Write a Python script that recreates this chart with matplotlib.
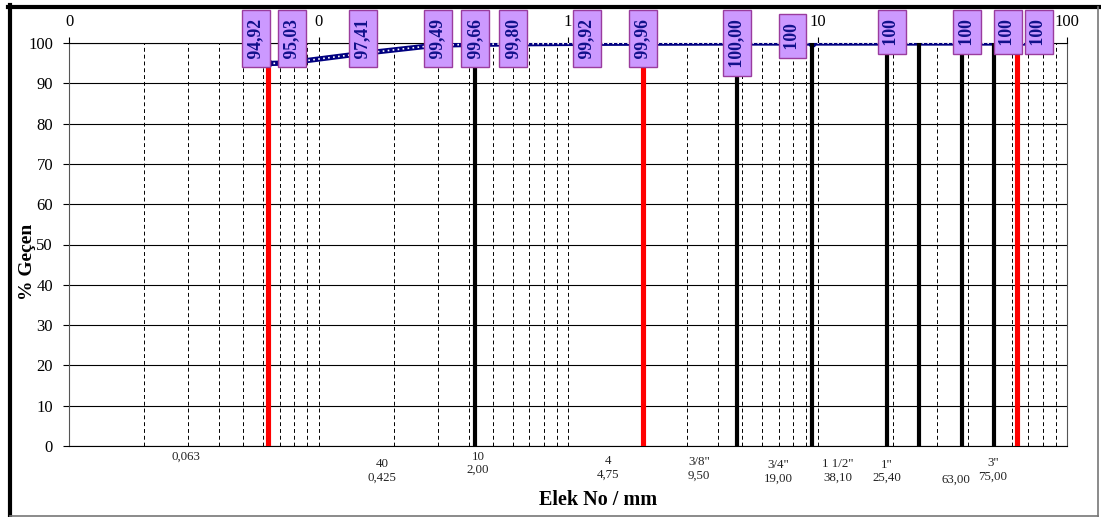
import matplotlib
matplotlib.use("Agg")
import matplotlib.pyplot as plt
from matplotlib.lines import Line2D
from matplotlib.ticker import FixedLocator, FixedFormatter, LogLocator, NullFormatter

# Sieve analysis: percent passing vs. particle size (mm)
sieve_mm = [0.063, 0.075, 0.15, 0.30, 0.425, 0.60, 1.18, 2.00, 4.75, 9.50, 19.0, 38.1, 63.0, 75.0]
passing_pct = [94.92, 95.03, 97.41, 99.49, 99.66, 99.80, 99.92, 99.96, 100.00, 100, 100, 100, 100, 100]
label_decimals = [2, 2, 2, 2, 2, 2, 2, 2, 2, 0, 0, 0, 0, 0]

# Reference sieve lines
boundary_mm = [0.063, 0.425, 2.00, 4.75, 9.50, 19.0, 25.4, 38.1, 50.8, 63.0]
boundary_kind = ["red", "black", "red", "black", "black", "black", "black", "black", "black", "red"]

# Sieve names under the axis
sieve_names = ["0,063", "40\n0,425", "10\n2,00", "4\n4,75", '3/8"\n9,50', '3/4"\n19,00',
               '1 1/2"\n38,10', '1"\n25,40', "63,00", '3"\n75,00']

top_ticks = [0.01, 0.1, 1, 10, 100]
top_tick_labels = ["0", "0", "1", "10", "100"]
y_ticks = list(range(0, 101, 10))

W, H = 1101, 517
plt.rcParams["font.family"] = ["Liberation Serif", "DejaVu Serif"]

fig = plt.figure(figsize=(W / 100, H / 100), dpi=100)
ax_l, ax_r, ax_t, ax_b = 69, 1067, 43, 446
ax = fig.add_axes([ax_l / W, 1 - ax_b / H, (ax_r - ax_l) / W, (ax_b - ax_t) / H])

ax.set_xscale("log")
ax.set_xlim(0.01, 100)
ax.set_ylim(0, 100)

# grid
ax.xaxis.set_minor_locator(LogLocator(base=10, subs=range(2, 10)))
ax.xaxis.set_minor_formatter(NullFormatter())
ax.xaxis.set_major_locator(FixedLocator(top_ticks))
ax.xaxis.set_major_formatter(FixedFormatter(top_tick_labels))
ax.grid(True, which="both", axis="x", color="black", lw=0.7, ls=(0, (4, 3)), zorder=1)
ax.set_yticks(y_ticks)
ax.grid(True, which="major", axis="y", color="black", lw=0.8, ls="-", zorder=1)
ax.set_axisbelow(True)

ax.xaxis.tick_top()
ax.tick_params(axis="x", which="major", top=True, bottom=False, length=4, width=0.8,
               direction="out", labelsize=12, pad=5, labeltop=True, labelbottom=False)
ax.tick_params(axis="x", which="minor", length=0)
ax.tick_params(axis="y", length=4.5, width=0.8, direction="out", labelsize=12, pad=7)

for side in ["left", "right"]:
    ax.spines[side].set_color("#555555")
    ax.spines[side].set_linewidth(0.8)
for side in ["top", "bottom"]:
    ax.spines[side].set_color("black")
    ax.spines[side].set_linewidth(0.8)

# passing curve
ax.plot(sieve_mm, passing_pct, color="#000080", lw=3.8, solid_capstyle="butt", zorder=3)
ax.plot(sieve_mm, passing_pct, color="white", lw=1.2, ls=(0, (1, 2)), zorder=3.1)
ax.plot(sieve_mm, passing_pct, ls="none", marker="o", ms=5.0, color="#000080", zorder=3.5)

# sieve boundary lines
for x, kind in zip(boundary_mm, boundary_kind):
    if kind == "red":
        ax.vlines(x, 0, 100, colors="#FF0000", lw=3.7, zorder=4)
    else:
        ax.vlines(x, 0, 100, colors="black", lw=3.0, zorder=4)

# value labels
label_dx = [-9, 3.5, 0.5, 0, 0, 0.5, 0.5, 0, 0, -14, 3.5, 3.5, -6.5, 2]
label_dy = [19.9, 19.9, 19.9, 19.9, 19.9, 19.9, 19.9, 19.9, 19.9, 17.0, 19.9, 19.9, 19.9, 19.9]
for x, v, d, dx, dy in zip(sieve_mm, passing_pct, label_decimals, label_dx, label_dy):
    txt = f"{v:.{d}f}".replace(".", ",")
    ax.annotate("\u2009" + txt + "\u2009", xy=(x, 1.0), xycoords=("data", "axes fraction"),
                xytext=(dx, dy), textcoords="offset points",
                rotation=90, ha="center", va="top", fontsize=12.7, fontweight="bold",
                color="#10108A", annotation_clip=False, zorder=6,
                bbox=dict(boxstyle="square,pad=0.31", fc="#CC99FF", ec="#9A3C9E", lw=1.0))

# sieve names under the axis
name_px = [(186, 457), (382, 471), (478, 463.5), (608, 468), (699, 469), (778, 472),
           (838, 471), (887, 471.5), (956, 480), (993, 470)]
for name, (px, py) in zip(sieve_names, name_px):
    fig.text(px / W, 1 - py / H, name, ha="center", va="center", fontsize=9.3,
             color="#222222", linespacing=1.15, multialignment="center")

# axis titles
fig.text(28 / W, 1 - 261.5 / H, "% Geçen", rotation=90, ha="center", va="center",
         fontsize=14, fontweight="bold")
fig.text(598 / W, 1 - 500 / H, "Elek No / mm", ha="center", va="center",
         fontsize=14.5, fontweight="bold")

# chart frame
fig.add_artist(Line2D([8 / W, 1], [1 - 7 / H, 1 - 7 / H], transform=fig.transFigure,
                      color="black", lw=3.0))
fig.add_artist(Line2D([10 / W, 10 / W], [0, 1 - 5 / H], transform=fig.transFigure,
                      color="black", lw=3.0))
fig.add_artist(Line2D([1098 / W, 1098 / W], [0, 1 - 7 / H], transform=fig.transFigure,
                      color="#777777", lw=1.2))
fig.add_artist(Line2D([10 / W, 1098 / W], [1 - 516 / H, 1 - 516 / H], transform=fig.transFigure,
                      color="#777777", lw=1.2))

fig.savefig("out.png", dpi=100)
